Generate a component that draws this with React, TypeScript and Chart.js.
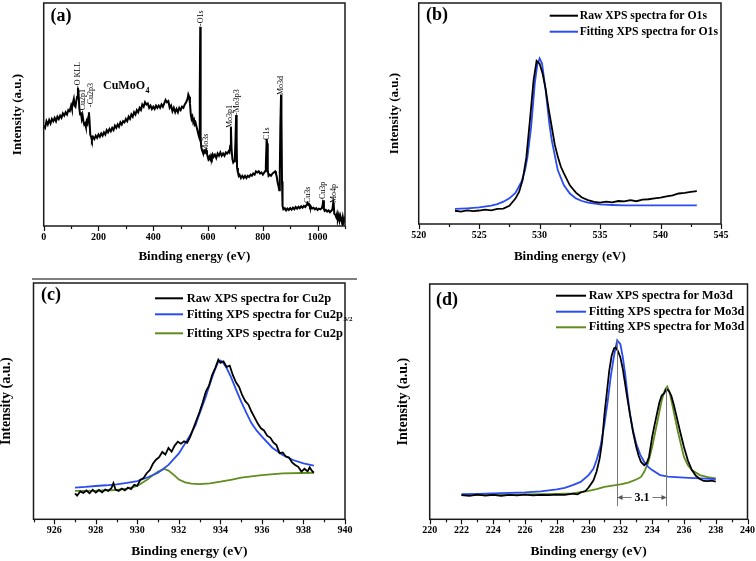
import React, { useEffect, useRef } from 'react';
import { Chart, registerables } from 'chart.js';
Chart.register(...registerables);

const SERIF = '"Liberation Serif", "Times New Roman", serif';

// ---------- (a) survey spectrum: [binding energy eV, intensity %] ----------
const SURVEY: [number, number][] = [
  [0,45],[5,44],[10,47],[15,45.5],[20,47.5],[25,46],[30,48],[35,47],[40,48.5],[45,47],[50,49],[55,48],
  [60,49.5],[65,48.5],[70,50.5],[75,49.5],[80,51],[85,50],[90,52],[95,51.5],[100,54],[103,52.5],[106,55],
  [110,57],[113,54],[116,53.5],[119,56],[122,58],[125,62],[127,60],[130,53],[133,50],[136,51],[139,48],
  [142,49.5],[145,47],[148,45.5],[151,46],[154,44.5],[157,47],[160,46],[163,49],[165,51],[167,48],[170,41],
  [173,40],[176,38.5],[180,40],[185,39],[190,40.5],[195,39.5],[200,41],[205,40],[210,41.5],[215,40.5],
  [220,42],[225,41],[230,43],[235,42],[240,43.5],[245,42.5],[250,44],[255,43],[260,45],[265,44],[270,45.5],
  [275,44.5],[280,46.5],[285,45.5],[290,47],[295,46.5],[300,48],[305,47],[310,49],[315,48],[320,50],[325,49],
  [330,51],[335,50],[340,52],[345,51],[350,53],[355,52],[360,54.5],[365,53.5],[370,55.5],[375,54.5],[380,55],
  [385,53],[390,54],[395,52.5],[400,53.5],[405,52.5],[410,54],[415,53],[420,54],[425,53],[430,54.5],[435,53.5],
  [440,55],[445,56.5],[450,55.5],[455,56],[460,53],[465,54],[470,51.5],[475,53],[480,51],[485,52.5],[490,51],
  [495,53],[500,52],[505,53.5],[510,53],[515,54.5],[520,55.5],[525,57],[528,59],[531,58],[534,55],[537,50],
  [540,48],[543,49],[546,46.5],[549,47.5],[552,45.5],[555,46],[558,44.5],[561,43],[564,41.5],[567,40],[569,39],
  [570.5,60],[571.5,89.4],[572.5,70],[573.5,40],[575,35.5],[578,34],[581,33],[584,32.5],[587,33.5],[590,33],
  [593,34],[596,32.5],[599,31],[602,30],[605,31],[608,30],[611,31.5],[614,30.5],[617,32],[620,31],[625,32],
  [630,30.5],[635,32.5],[640,31.5],[645,33],[650,31.5],[655,32.5],[660,31.5],[665,33],[670,32.5],[675,33.5],
  [678,33],[681,36],[683.5,44.4],[686,34],[689,30],[692,28.5],[695,29],[698,31],[700,38],[702.5,49.8],
  [704.5,38],[706,26],[709,24],[712,22.5],[715,23],[720,21.5],[725,22.5],[730,21.5],[735,22.5],[740,21.5],
  [745,22.5],[750,22],[755,23],[760,22.5],[765,23.5],[770,23],[775,24.5],[780,24],[785,24.5],[790,23.5],
  [795,24],[800,23],[805,24],[808,24.5],[811,27],[814,39],[816,37],[818,25],[821,22.5],[825,23],[830,22.5],
  [835,23.5],[840,24],[845,24.5],[848,23.5],[851,22],[854,19.5],[857,18],[860,16],[862,25],[864,45],
  [866.5,59],[868,50],[870,20],[872,9],[875,7.5],[880,8],[885,7],[890,7.8],[895,7.2],[900,8],[905,7.3],
  [910,8.2],[915,7.5],[920,8.5],[925,7.8],[930,8.6],[935,8],[940,8.8],[945,8.2],[950,9],[955,8.5],[960,9.5],
  [963,10.3],[966,9.5],[969,9.8],[972,8.5],[975,8.8],[980,7.8],[985,8.2],[990,7.5],[995,8],[1000,7.2],
  [1005,7.8],[1010,7.5],[1015,8],[1018,9],[1020.5,11.5],[1023,7.5],[1026,6.8],[1030,7.2],[1035,6.5],[1040,7],
  [1045,6.2],[1050,6.8],[1054,7.5],[1057,10.5],[1059,9],[1061,5.5],[1065,5],[1068,4],[1071,5.5],[1074,3.2],
  [1077,4.8],[1080,2.5],[1083,4.5],[1086,3],[1089,1.5],[1092,4],[1095,1.8],[1098,3],[1100,1.5],
];
const SURVEY_PEAKS: { text: string; ev: number; y: number }[] = [
  { text: '-O KLL', ev: 124, y: 61.9 },
  { text: '-Cu2p1', ev: 144.6, y: 50.7 },
  { text: '-Cu2p3', ev: 171.6, y: 53.4 },
  { text: '-O1s', ev: 573, y: 89.7 },
  { text: 'Mo3s', ev: 591.5, y: 33.3 },
  { text: 'Mo3p1', ev: 680, y: 43.9 },
  { text: '-Mo3p3', ev: 704.6, y: 49.8 },
  { text: 'C1s', ev: 816, y: 38.6 },
  { text: 'Mo3d', ev: 865, y: 58.7 },
  { text: 'Cu3s', ev: 964, y: 10.3 },
  { text: '-Cu3p', ev: 1021, y: 10.9 },
  { text: 'Mo4p', ev: 1060, y: 10.3 },
];
const SAMPLE_NAME = 'CuMoO';
const SAMPLE_SUB = '4';

// ---------- (b) O1s ----------
const O1S_RAW: [number, number][] = [
  [523,6.0],[523.5,5.6],[524,6.2],[524.5,5.8],[525,6.1],[525.5,6.5],[526,6.2],[526.5,6.8],[527,7.0],
  [527.5,8.2],[528,11.5],[528.3,14.5],[528.6,20],[528.9,30],[529.2,47],[529.5,65],[529.75,73.8],
  [530,72.5],[530.25,68],[530.5,61],[530.75,52],[531,44],[531.25,36],[531.5,30.5],[531.75,26],[532,23],
  [532.5,17.5],[533,14.2],[533.5,12],[534,10.8],[534.5,10],[535,9.7],[535.5,10.1],[536,9.8],[536.5,10.4],
  [537,10.2],[537.5,10.8],[538,10.3],[538.5,11.0],[539,11.2],[539.5,11.6],[540,11.9],[540.5,12.5],[541,13],
  [541.5,13.8],[542,14.1],[542.5,14.5],[543,14.9],
];
const O1S_FIT: [number, number][] = [
  [523,6.8],[524,7.1],[525,7.5],[526,8.3],[526.5,9],[527,10.1],[527.5,11.6],[528,14.1],[528.5,19.1],
  [528.8,24.5],[529,30.5],[529.3,44],[529.6,63.6],[529.8,71.8],[530,74.9],[530.2,72.6],[530.5,60.5],
  [530.8,45.5],[531,38],[531.5,24.4],[532,17.6],[532.5,13.8],[533,11.6],[533.5,10.4],[534,9.7],[535,8.9],
  [536,8.6],[537,8.4],[539,8.4],[541,8.4],[543,8.4],
];

// ---------- (c) Cu2p ----------
const CU_RAW: [number, number][] = [
  [927,11.0],[927.1,10.0],[927.25,11.8],[927.4,11.2],[927.55,12.2],[927.7,11.0],[927.85,12.5],[928,11.3],
  [928.15,12.4],[928.3,11.4],[928.45,12.6],[928.6,12.0],[928.75,13.2],[928.85,15.3],[928.95,12.6],
  [929.1,12.0],[929.25,13.0],[929.4,12.2],[929.55,13.4],[929.7,12.8],[929.85,14.6],[930,14.2],[930.15,16.8],
  [930.3,17.5],[930.45,19.5],[930.6,20.8],[930.75,23.5],[930.9,25.2],[931.05,26.3],[931.2,28.5],
  [931.35,27.4],[931.5,30.2],[931.65,28.6],[931.8,31.2],[931.95,32.8],[932.1,32.0],[932.25,33.0],
  [932.4,32.4],[932.55,35.0],[932.7,38.5],[932.85,42.0],[933,45.5],[933.15,49.5],[933.3,54.0],
  [933.45,56.5],[933.6,61.0],[933.75,64.0],[933.9,67.5],[934,66.2],[934.15,66.8],[934.3,64.5],
  [934.45,65.0],[934.6,61.0],[934.75,58.0],[934.9,56.0],[935.05,52.5],[935.2,50.0],[935.35,48.5],
  [935.5,45.5],[935.65,43.0],[935.8,40.5],[935.95,38.5],[936.1,37.6],[936.25,35.4],[936.4,34.6],
  [936.55,32.5],[936.7,31.4],[936.85,28.0],[937,28.3],[937.15,26.6],[937.3,26.2],[937.45,24.1],
  [937.6,23.0],[937.75,22.2],[937.9,20.2],[938.05,21.4],[938.2,20.3],[938.3,22.0],[938.4,20.6],[938.5,19.7],
];
const CU_FIT_MAIN: [number, number][] = [
  [927,13.4],[927.5,13.7],[928,14.1],[928.5,14.4],[929,14.8],[929.5,15.4],[930,16.2],[930.5,17.8],
  [931,19.7],[931.5,23],[932,27.9],[932.5,34.9],[932.8,39.8],[933,44.8],[933.3,52],[933.5,57.5],
  [933.7,62.5],[933.9,66.7],[934,67.2],[934.1,66.7],[934.3,64],[934.5,60.4],[934.75,55],[935,49.8],
  [935.25,45],[935.5,40.6],[935.75,37.5],[936,35],[936.5,30.3],[937,27.2],[937.5,25.1],[938,23.7],[938.5,22.7],
];
const CU_FIT_SAT: [number, number][] = [
  [927,12.0],[928,12.1],[929,12.4],[929.5,13],[930,14.1],[930.5,16.9],[930.8,19],[931,20.2],[931.3,21.3],
  [931.5,20.6],[931.8,18.5],[932,16.8],[932.3,15.6],[932.6,15.1],[933,14.9],[933.5,15.2],[934,15.9],
  [934.5,16.7],[935,17.6],[935.5,18.2],[936,18.7],[937,19.4],[938,19.6],[938.5,19.7],
];

// ---------- (d) Mo3d ----------
const MO_RAW: [number, number][] = [
  [222,10.3],[222.5,10.0],[223,10.5],[223.5,10.1],[224,10.4],[224.5,10.0],[225,10.4],[225.5,10.2],[226,10.5],
  [226.5,10.2],[227,10.4],[227.5,10.3],[228,10.5],[228.5,10.4],[229,10.9],[229.3,10.6],[229.5,11.4],
  [229.8,12.0],[230,13.5],[230.3,16.5],[230.5,20.2],[230.7,26],[230.85,33],[231,44.8],[231.15,54],
  [231.3,63.2],[231.45,69.5],[231.6,72.6],[231.7,73],[231.85,71.5],[232,68.8],[232.15,64],[232.3,57.5],
  [232.45,51],[232.6,44.8],[232.8,37],[233,30.7],[233.15,27],[233.3,24.4],[233.5,23],[233.65,23.8],
  [233.8,26.5],[234,35],[234.15,40],[234.3,44.8],[234.45,49.5],[234.6,52.6],[234.75,53.5],[234.9,55.4],
  [235.05,54.5],[235.2,52.6],[235.35,49],[235.5,44.8],[235.75,37.5],[236,30.7],[236.25,25],[236.5,20.9],
  [236.75,18.5],[237,17.1],[237.25,16.3],[237.5,16.2],[237.75,16.4],[238,16],
];
const MO_FIT_A: [number, number][] = [
  [222,10.7],[223,10.8],[224,11.0],[225,11.2],[226,11.4],[227,11.9],[228,12.7],[228.5,13.4],[229,14.5],
  [229.5,15.9],[230,18.8],[230.3,21.5],[230.5,25.1],[230.75,31],[231,40.6],[231.2,50],[231.4,61],
  [231.6,69.5],[231.8,76.1],[232,74.4],[232.15,69],[232.3,61.8],[232.45,53],[232.6,44.8],[232.8,37.5],
  [233,32.1],[233.25,27.5],[233.5,24.4],[233.75,22.3],[234,20.9],[234.5,18.8],[235,18.1],[235.5,17.9],
  [236,17.7],[237,17.4],[238,17.1],
];
const MO_FIT_B: [number, number][] = [
  [222,10.3],[224,10.4],[226,10.6],[228,10.8],[229,11.0],[230,12.1],[230.5,12.8],[231,13.8],[231.5,14.3],
  [232,14.8],[232.5,15.6],[233,16.9],[233.3,18],[233.5,20.2],[233.75,24],[234,30.7],[234.3,40.6],
  [234.6,50.5],[234.8,55],[234.95,56.4],[235.1,54],[235.3,47.7],[235.6,37.8],[236,26.5],[236.25,23],
  [236.5,20.9],[237,18.8],[237.5,17.9],[238,17.4],
];
const SPLIT_PEAKS = [231.8, 234.9];
const SPLIT_TOPS = [76.1, 56.4];
const SPLIT_LABEL = '3.1';

const X_TITLE = 'Binding energy (eV)';
const Y_TITLE = 'Intensity (a.u.)';

const BLACK = '#000000';
const BLUE = '#2b4cf2';
const GREEN = '#618c1e';

type Series = { name: string; sub?: string; color: string; width: number; pts: [number, number][] };
type Spec = {
  key: string; left: number; top: number; w: number; h: number;
  pad: { left: number; right: number; top: number; bottom: number };
  yW: number; xH: number;
  xMin: number; xMax: number; step: number; labelEvery: number;
  yTitleFont: number; yTitlePad: number; xTitleFont: number; xTitlePad: number;
  tag: string; tagX: number; tagY: number;
  series: Series[];
  legend?: { x0: number; x1: number; tx: number; ys: number[]; font: number };
  extra?: (chart: any) => void;
};

function font(size: number, bold = true) {
  return `${bold ? 'bold ' : ''}${size}px ${SERIF}`;
}

function drawSurveyExtras(chart: any) {
  const ctx = chart.ctx;
  const xs = chart.scales.x;
  const ys = chart.scales.y;
  ctx.save();
  ctx.fillStyle = '#000';
  ctx.font = font(8, false);
  ctx.textAlign = 'left';
  ctx.textBaseline = 'middle';
  SURVEY_PEAKS.forEach((p) => {
    ctx.save();
    ctx.translate(xs.getPixelForValue(p.ev), ys.getPixelForValue(p.y));
    ctx.rotate(-Math.PI / 2);
    ctx.fillText(p.text, 0, 0);
    ctx.restore();
  });
  ctx.font = font(12);
  ctx.textBaseline = 'middle';
  ctx.fillText(SAMPLE_NAME, 103, 86);
  const w = ctx.measureText(SAMPLE_NAME).width;
  ctx.font = font(8);
  ctx.fillText(SAMPLE_SUB, 103 + w + 0.5, 91);
  // separator rule under panel (a)
  ctx.strokeStyle = '#555';
  ctx.lineWidth = 1.5;
  ctx.beginPath();
  ctx.moveTo(32, 279);
  ctx.lineTo(357, 279);
  ctx.stroke();
  ctx.restore();
}

function drawSplitExtras(chart: any) {
  const ctx = chart.ctx;
  const xs = chart.scales.x;
  const ys = chart.scales.y;
  ctx.save();
  ctx.strokeStyle = '#777';
  ctx.fillStyle = '#555';
  ctx.lineWidth = 1;
  const yb = ys.getPixelForValue(5.6);
  const pxs = SPLIT_PEAKS.map((v) => Math.round(xs.getPixelForValue(v)) + 0.5);
  pxs.forEach((px, i) => {
    ctx.beginPath();
    ctx.moveTo(px, ys.getPixelForValue(SPLIT_TOPS[i]));
    ctx.lineTo(px, yb);
    ctx.stroke();
  });
  const ya = Math.round(ys.getPixelForValue(9.6)) + 0.5;
  const mid = (pxs[0] + pxs[1]) / 2;
  ctx.font = font(12);
  const tw = ctx.measureText(SPLIT_LABEL).width;
  ctx.beginPath();
  ctx.moveTo(pxs[0], ya); ctx.lineTo(mid - tw / 2 - 3, ya);
  ctx.moveTo(mid + tw / 2 + 3, ya); ctx.lineTo(pxs[1], ya);
  ctx.stroke();
  // arrowheads
  ctx.beginPath();
  ctx.moveTo(pxs[0], ya); ctx.lineTo(pxs[0] + 5, ya - 2.5); ctx.lineTo(pxs[0] + 5, ya + 2.5); ctx.closePath();
  ctx.moveTo(pxs[1], ya); ctx.lineTo(pxs[1] - 5, ya - 2.5); ctx.lineTo(pxs[1] - 5, ya + 2.5); ctx.closePath();
  ctx.fill();
  ctx.fillStyle = '#000';
  ctx.textAlign = 'center';
  ctx.textBaseline = 'middle';
  ctx.fillText(SPLIT_LABEL, mid, ya);
  ctx.restore();
}

const SPECS: Spec[] = [
  {
    key: 'a', left: 0, top: 0, w: 378, h: 280,
    pad: { left: 0, right: 33, top: 3, bottom: 0 }, yW: 43.7, xH: 54,
    xMin: 0, xMax: 1100, step: 100, labelEvery: 200,
    yTitleFont: 13, yTitlePad: 10.2, xTitleFont: 13, xTitlePad: 15.2,
    tag: '(a)', tagX: 61, tagY: 16,
    series: [{ name: 'Survey', color: BLACK, width: 2, pts: SURVEY }],
    extra: drawSurveyExtras,
  },
  {
    key: 'b', left: 378, top: 0, w: 378, h: 280,
    pad: { left: 0, right: 35, top: 3, bottom: 0 }, yW: 40.7, xH: 56,
    xMin: 520, xMax: 545, step: 2.5, labelEvery: 5,
    yTitleFont: 13, yTitlePad: 8.9, xTitleFont: 13, xTitlePad: 15.2,
    tag: '(b)', tagX: 59, tagY: 15,
    series: [
      { name: 'Raw XPS spectra for O1s', color: BLACK, width: 1.8, pts: O1S_RAW },
      { name: 'Fitting XPS spectra for O1s', color: BLUE, width: 1.8, pts: O1S_FIT },
    ],
    legend: { x0: 171.7, x1: 200, tx: 201.7, ys: [15.7, 31.7], font: 11.7 },
  },
  {
    key: 'c', left: 0, top: 280, w: 378, h: 281,
    pad: { left: 0, right: 33, top: 3, bottom: 0 }, yW: 33.5, xH: 41.7,
    xMin: 925, xMax: 940, step: 1, labelEvery: 2,
    yTitleFont: 14, yTitlePad: -1.7, xTitleFont: 13.5, xTitlePad: 1.2,
    tag: '(c)', tagX: 51, tagY: 15.5,
    series: [
      { name: 'Raw XPS spectra for Cu2p', color: BLACK, width: 1.8, pts: CU_RAW },
      { name: 'Fitting XPS spectra for Cu2p', sub: '3/2', color: BLUE, width: 1.8, pts: CU_FIT_MAIN },
      { name: 'Fitting XPS spectra for Cu2p', color: GREEN, width: 1.8, pts: CU_FIT_SAT },
    ],
    legend: { x0: 155, x1: 183, tx: 186.7, ys: [18.3, 34.3, 53.3], font: 12.5 },
  },
  {
    key: 'd', left: 378, top: 280, w: 378, h: 281,
    pad: { left: 0, right: 6.3, top: 4, bottom: 0 }, yW: 51.7, xH: 41.7,
    xMin: 220, xMax: 240, step: 1, labelEvery: 2,
    yTitleFont: 14, yTitlePad: 16.6, xTitleFont: 13.5, xTitlePad: 1.2,
    tag: '(d)', tagX: 69, tagY: 20.5,
    series: [
      { name: 'Raw XPS spectra for Mo3d', color: BLACK, width: 1.8, pts: MO_RAW },
      { name: 'Fitting XPS spectra for Mo3d', color: BLUE, width: 1.8, pts: MO_FIT_A },
      { name: 'Fitting XPS spectra for Mo3d', color: GREEN, width: 1.8, pts: MO_FIT_B },
    ],
    legend: { x0: 178, x1: 208, tx: 210.7, ys: [15.7, 31.7, 47.3], font: 12.3 },
    extra: drawSplitExtras,
  },
];

function isMajor(v: number, every: number) {
  const q = v / every;
  return Math.abs(q - Math.round(q)) < 1e-6;
}

function Panel({ spec }: { spec: Spec }) {
  const ref = useRef<HTMLCanvasElement | null>(null);
  useEffect(() => {
    if (!ref.current) return;
    const decor = {
      id: 'decor_' + spec.key,
      afterDraw(chart: any) {
        const ctx = chart.ctx;
        const { left, right, top, bottom } = chart.chartArea;
        const xs = chart.scales.x;
        ctx.save();
        // tick marks (major longer, minor shorter, outward)
        ctx.strokeStyle = '#111';
        ctx.lineWidth = 1.2;
        xs.ticks.forEach((t: any) => {
          const px = Math.round(xs.getPixelForValue(t.value)) + 0.5;
          const len = isMajor(t.value, spec.labelEvery) ? 5 : 3;
          ctx.beginPath();
          ctx.moveTo(px, bottom);
          ctx.lineTo(px, bottom + len);
          ctx.stroke();
        });
        // frame
        ctx.strokeStyle = '#1a1a1a';
        ctx.lineWidth = 1.5;
        ctx.strokeRect(left, top, right - left, bottom - top);
        // panel tag
        ctx.fillStyle = '#000';
        ctx.font = font(18);
        ctx.textAlign = 'center';
        ctx.textBaseline = 'middle';
        ctx.fillText(spec.tag, spec.tagX, spec.tagY);
        // legend
        if (spec.legend) {
          const lg = spec.legend;
          ctx.textAlign = 'left';
          spec.series.forEach((s, i) => {
            const y = lg.ys[i];
            ctx.strokeStyle = s.color;
            ctx.lineWidth = 2;
            ctx.beginPath();
            ctx.moveTo(lg.x0, y);
            ctx.lineTo(lg.x1, y);
            ctx.stroke();
            ctx.fillStyle = '#000';
            ctx.font = font(lg.font);
            ctx.fillText(s.name, lg.tx, y);
            if (s.sub) {
              const w = ctx.measureText(s.name).width;
              ctx.font = font(7);
              ctx.fillText(s.sub, lg.tx + w + 0.5, y + 5);
            }
          });
        }
        ctx.restore();
        if (spec.extra) spec.extra(chart);
      },
    };
    const chart = new Chart(ref.current, {
      type: 'line',
      data: {
        datasets: spec.series.map((s) => ({
          label: s.name,
          data: s.pts.map(([x, y]) => ({ x, y })),
          borderColor: s.color,
          borderWidth: s.width,
          pointRadius: 0,
          tension: 0,
          fill: false,
        })),
      },
      options: {
        animation: false,
        responsive: false,
        devicePixelRatio: 1,
        layout: { padding: spec.pad },
        plugins: { legend: { display: false }, tooltip: { enabled: false } },
        scales: {
          x: {
            type: 'linear',
            min: spec.xMin,
            max: spec.xMax,
            afterFit: (sc: any) => { sc.height = spec.xH; },
            border: { display: false },
            grid: { display: true, drawOnChartArea: false, drawTicks: true, tickLength: 4, color: 'rgba(0,0,0,0)' },
            ticks: {
              stepSize: spec.step,
              autoSkip: false,
              maxRotation: 0,
              padding: 1,
              color: '#000',
              font: { family: SERIF, size: 10, weight: 'bold' },
              callback: (v: any) => (isMajor(Number(v), spec.labelEvery) ? String(Number(v)) : ''),
            },
            title: {
              display: true,
              text: X_TITLE,
              color: '#000',
              font: { family: SERIF, size: spec.xTitleFont, weight: 'bold' },
              padding: { top: 0, bottom: spec.xTitlePad },
            },
          },
          y: {
            type: 'linear',
            min: 0,
            max: 100,
            afterFit: (sc: any) => { sc.width = spec.yW; },
            border: { display: false },
            grid: { display: false },
            ticks: { display: false },
            title: {
              display: true,
              text: Y_TITLE,
              color: '#000',
              font: { family: SERIF, size: spec.yTitleFont, weight: 'bold' },
              padding: { top: spec.yTitlePad, bottom: 0 },
            },
          },
        },
      } as any,
      plugins: [decor],
    });
    return () => chart.destroy();
  }, [spec]);
  return (
    <canvas
      ref={ref}
      width={spec.w}
      height={spec.h}
      style={{ position: 'absolute', left: spec.left, top: spec.top, width: spec.w, height: spec.h }}
    />
  );
}

export default function App() {
  return (
    <div style={{ position: 'fixed', left: 0, top: 0, width: 756, height: 561, background: '#fff', overflow: 'hidden' }}>
      {SPECS.map((s) => (
        <Panel key={s.key} spec={s} />
      ))}
    </div>
  );
}
